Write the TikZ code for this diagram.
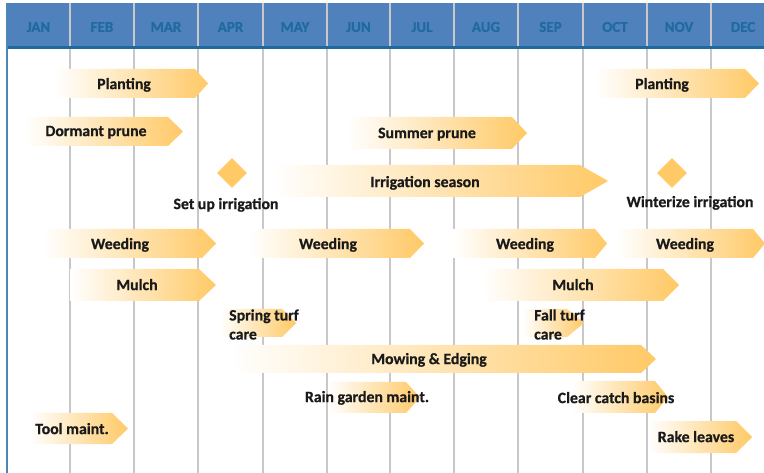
\documentclass[tikz,border=0pt]{standalone}
\usepackage{fontspec}
\setmainfont{Carlito}[BoldFeatures={FakeBold=0.6}]
\usetikzlibrary{shapes.geometric}
\definecolor{hdrfill}{HTML}{4F81BD}
\definecolor{hdrtext}{HTML}{1F6AA0}
\definecolor{hdrline}{HTML}{1F6AA0}
\definecolor{gold}{HTML}{FFC966}
\definecolor{gridgray}{HTML}{C8C8C8}
\definecolor{txt}{HTML}{1A1A1A}
\newcommand\garrow[5]{%
  \shade[left color=white, right color=gold] (#1,#4) -- (#2,#4) -- (#3,{(#4+#5)/2}) -- (#2,#5) -- (#1,#5) -- cycle;}
\begin{document}
\begin{tikzpicture}[x=1pt,y=-1pt,
  lbl/.style={font=\fontsize{15.8}{19}\selectfont\bfseries, text=txt, inner sep=0pt, text height=10.2pt, text depth=0pt},
  lbl2/.style={font=\fontsize{15.8}{19}\selectfont\bfseries, text=txt, inner sep=0pt, align=left, anchor=west},
  mon/.style={font=\fontsize{15}{17}\selectfont\bfseries, text=hdrtext, inner sep=0pt, text height=9.7pt, text depth=0pt},
  gline/.style={draw=gridgray, line width=1.5pt},
  dia/.style={diamond, fill=gold, minimum width=30pt, minimum height=30pt, inner sep=0pt}]
\useasboundingbox (0,0) rectangle (764,473);
\fill[white] (0,0) rectangle (764,473);
% header
\fill[hdrfill] (7,3) rectangle (764,47);
\foreach \x in {70,134,198,263,327,390,454,518,583,647,711}{
  \draw[gline] (\x,3) -- (\x,473);
}
\draw[hdrline, line width=2.5pt] (7,47.5) -- (764,47.5);
\draw[hdrline!80, line width=1.5pt] (7,3) -- (7,473);
\foreach \n/\x in {JAN/38.5,FEB/102,MAR/166,APR/230.5,MAY/295,JUN/358.5,JUL/422,AUG/486,SEP/550.5,OCT/615,NOV/679,DEC/743}{
  \node[mon] (m\n) at (\x,27) {\n};
}
% arrows
\garrow{55}{195}{208}{69}{98}
\node[lbl] (plant1) at (124,84) {Planting};
\garrow{595}{745}{759}{69}{98}
\node[lbl] (plant2) at (662,84) {Planting};
\garrow{25}{168}{183}{117}{146}
\node[lbl] (dprune) at (96,131) {Dormant prune};
\garrow{347}{512}{527}{117}{149}
\node[lbl] (sprune) at (427,133) {Summer prune};
\garrow{272}{580}{608}{165}{197}
\node[lbl] (irrig) at (425,182) {Irrigation season};
\garrow{43}{202}{216}{229}{258}
\node[lbl] (weed1) at (120,244) {Weeding};
\garrow{250}{410}{424}{229}{258}
\node[lbl] (weed2) at (328,244) {Weeding};
\garrow{453}{595}{607}{229}{258}
\node[lbl] (weed3) at (525,244) {Weeding};
\garrow{617}{753}{765}{229}{258}
\node[lbl] (weed4) at (685,244) {Weeding};
\garrow{70}{199}{216}{269}{301}
\node[lbl] (mulch1) at (137,285) {Mulch};
\garrow{482}{663}{679}{269}{301}
\node[lbl] (mulch2) at (573,285) {Mulch};
\garrow{220}{282}{296}{309}{337}
\node[lbl2] (sturf) at (229,324.5) {Spring turf\\care};
\garrow{523}{567}{584}{309}{337}
\node[lbl2] (fturf) at (534,324.5) {Fall turf\\care};
\garrow{230}{641}{656}{345}{373}
\node[lbl] (mow) at (429,359) {Mowing \& Edging};
\garrow{328}{406}{420}{382}{413}
\node[lbl] (rain) at (367,397) {Rain garden maint.};
\garrow{572}{655}{668}{381}{413}
\node[lbl] (catch) at (616,398) {Clear catch basins};
\garrow{30}{112}{128}{413}{444}
\node[lbl] (tool) at (72,429) {Tool maint.};
\garrow{648}{736}{752}{421}{453}
\node[lbl] (rake) at (696,437) {Rake leaves};
% milestones
\node[dia] (d1) at (232,173) {};
\node[lbl] (setup) at (226,204) {Set up irrigation};
\node[dia] (d2) at (672,173) {};
\node[lbl] (winter) at (690,202) {Winterize irrigation};
\end{tikzpicture}
\end{document}
